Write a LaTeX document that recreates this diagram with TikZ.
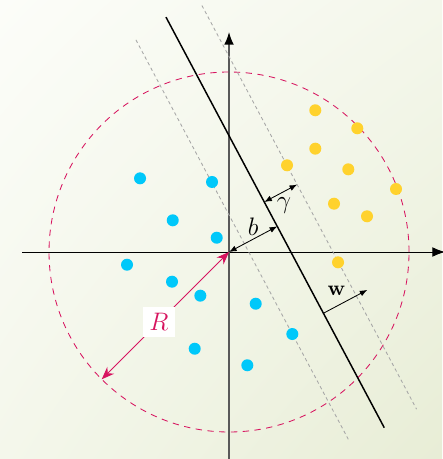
\documentclass[tikz,border=0pt]{standalone}
\usepackage{amsmath,amssymb}
\usepackage{tikz}
\usetikzlibrary{arrows.meta,calc,shadings}
\definecolor{bgpale}{RGB}{252,253,249}
\definecolor{bgmid}{RGB}{244,247,235}
\definecolor{bgolive}{RGB}{232,237,214}
\definecolor{dotblue}{RGB}{0,200,250}
\definecolor{dotgold}{RGB}{255,210,45}
\definecolor{radcrimson}{RGB}{215,20,95}

\tikzset{
  margindash/.style={gray!70,dash pattern=on 1.6pt off 1.4pt},
  dimarrow/.style={{Latex[length=3.6pt,width=2.8pt]}-{Latex[length=3.6pt,width=2.8pt]}},
  axisarrow/.style={-{Latex[length=6pt,width=4.6pt,color=black]}},
}

\begin{document}
\begin{tikzpicture}[x=1cm,y=1cm]
  \useasboundingbox (-3.817,-3.45) rectangle (3.55,4.2);
  \shade[upper left=bgpale,upper right=bgmid,lower left=bgmid,lower right=bgolive]
    (-3.817,-3.45) rectangle (3.55,4.2);
  % axes
  \coordinate (O) at (0,0);
  \coordinate (xl) at (-3.45,0);
  \coordinate (xr) at (3.6,0);
  \coordinate (yb) at (0,-3.5);
  \coordinate (yt) at (0,3.667);
  \draw[axisarrow] (xl) -- (xr);
  \draw[axisarrow,black!65,line width=.7pt] (yb) -- (yt);
  % enclosing ball
  \draw[radcrimson,dashed,dash pattern=on 3pt off 2.6pt] (O) circle (3);
  % hyperplane and margins
  \coordinate (H) at (28:.91);
  \coordinate (Hm) at (28:.29);
  \coordinate (Hp) at (28:1.53);
  \draw[margindash] ($(Hm)+(118:3.85)$) coordinate (Hmtop) -- ($(Hm)+(-62:3.69)$) coordinate (Hmbot);
  \draw[margindash] ($(Hp)+(118:3.84)$) coordinate (Hptop) -- ($(Hp)+(-62:3.78)$) coordinate (Hpbot);
  \draw[line width=.7pt] ($(H)+(118:3.95)$) coordinate (Htop) -- ($(H)+(-62:3.8)$) coordinate (Hbot);
  % points
  \foreach \px/\py in {-1.483/1.228,-.283/1.167,-.938/.528,-.205/.238,-1.7/-.212,
      -.95/-.495,-.478/-.728,.445/-.862,1.055/-1.367,-.572/-1.612,.305/-1.888}
    \fill[dotblue] (\px,\py) circle (.1);
  \foreach \px/\py in {1.438/2.362,2.138/2.062,1.438/1.722,.967/1.445,1.988/1.378,
      2.783/1.05,1.75/.805,2.3/.595,1.817/-.172}
    \fill[dotgold] (\px,\py) circle (.1);
  % b, gamma, w
  \draw[dimarrow] (O) -- (H) node[midway,above=-2pt,font=\large] (blab) {$b$};
  \coordinate (ga) at ($(H)+(118:.46)$);
  \coordinate (gb) at ($(Hp)+(118:.46)$);
  \draw[dimarrow] (ga) -- (gb) node[pos=.6,below=-.5pt,font=\large] (glab) {$\gamma$};
  \coordinate (wa) at ($(H)+(-62:1.64)$);
  \coordinate (wb) at ($(wa)+(28:.83)$);
  \draw[-{Latex[length=3.6pt,width=2.8pt]}] (wa) -- (wb) node[pos=.3,above=1.5pt] (wlab) {$\mathbf{w}$};
  % radius
  \coordinate (Rend) at (225:3);
  \draw[radcrimson,{Stealth[length=6pt,width=4.6pt]}-{Stealth[length=6pt,width=4.6pt]}] (O) -- (Rend)
    node[pos=.55,fill=white,inner sep=3pt,font=\large] (Rlab) {$R$};
\end{tikzpicture}
\end{document}
